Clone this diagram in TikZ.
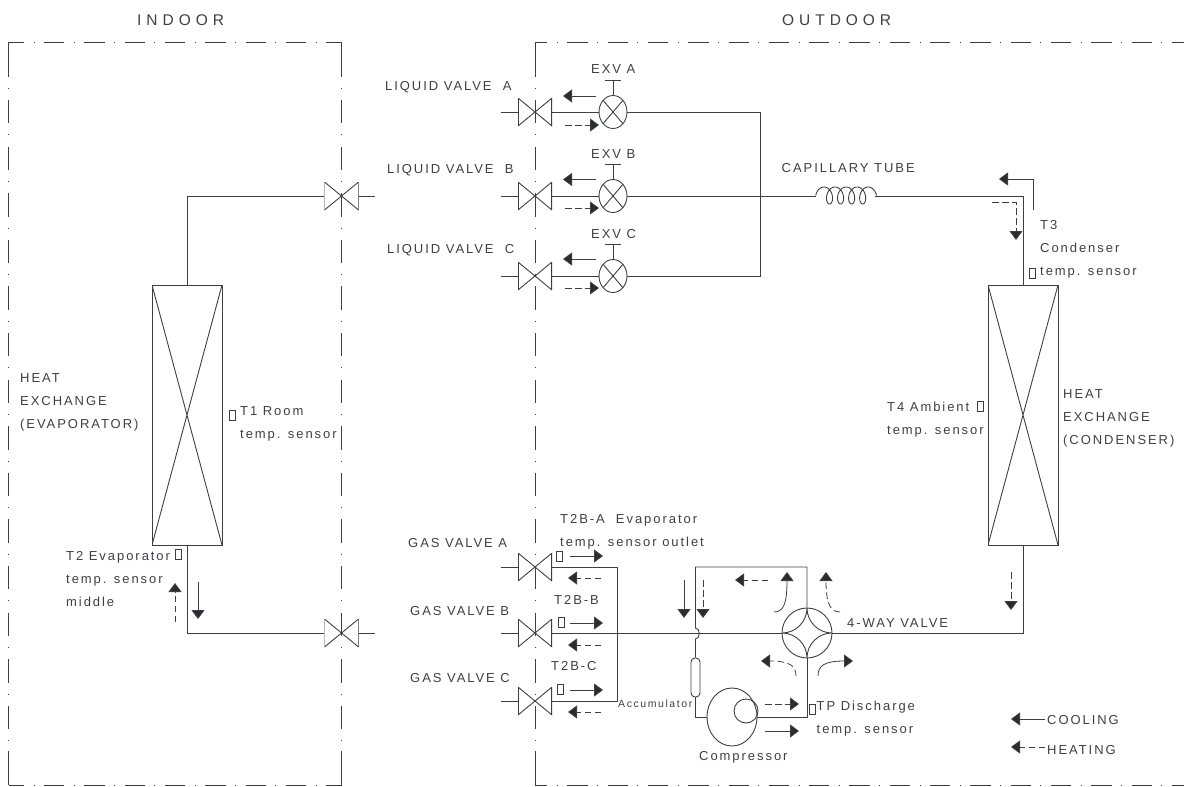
\documentclass[tikz,border=0pt]{standalone}
\usepackage{fontspec}
\setmainfont[LetterSpace=15]{Liberation Sans}
\newfontfamily\widefont[LetterSpace=32]{Liberation Sans}
\usetikzlibrary{arrows.meta,shapes.geometric}
\definecolor{ink}{HTML}{3C4045}
\begin{document}
\begin{tikzpicture}
		[x=1pt,y=-1pt,
		pipe/.style={draw=ink,line width=0.9pt},
		frameh/.style={draw=ink,line width=0.9pt,dash pattern=on 20.3pt off 9.5pt on 1pt off 9.5pt},
		framev/.style={draw=ink,line width=0.9pt,dash pattern=on 23.3pt off 11pt on 1pt off 11.3pt},
		cooling/.style={draw=ink,line width=0.8pt,-{Triangle[length=9pt,width=13pt,fill=ink!70!black]}},
		heating/.style={cooling,dash pattern=on 6.5pt off 3.5pt},
		lbl/.style={anchor=base west,inner sep=0pt,align=left,text=ink,font=\fontsize{13}{23}\selectfont},
		biglbl/.style={lbl,font=\fontsize{15.5}{18}\selectfont\widefont},
		smalllbl/.style={lbl,font=\fontsize{10.5}{12}\selectfont},
		valve/.style={rectangle,inner sep=0pt,minimum width=34pt,minimum height=28pt,
			path picture={
				\draw[pipe] (path picture bounding box.south west) -- (path picture bounding box.north east)
					(path picture bounding box.north west) -- (path picture bounding box.south east);
				\draw[pipe,line width=1.8pt] (path picture bounding box.south west) -- (path picture bounding box.north west)
					(path picture bounding box.south east) -- (path picture bounding box.north east);}},
		exv/.style={ellipse,pipe,inner sep=0pt,minimum width=28pt,minimum height=33pt,
			path picture={
				\draw[pipe] (path picture bounding box.south west) -- (path picture bounding box.north east)
					(path picture bounding box.north west) -- (path picture bounding box.south east);}},
		exchanger/.style={rectangle,pipe,inner sep=0pt,minimum width=70pt,minimum height=260pt,
			path picture={
				\draw[pipe] (path picture bounding box.south west) -- (path picture bounding box.north east)
					(path picture bounding box.north west) -- (path picture bounding box.south east);}},
		fourway/.style={circle,pipe,inner sep=0pt,minimum size=50pt,
			path picture={
				\draw[pipe] (path picture bounding box.north) arc[start angle=0,end angle=-90,radius=25pt]
					(path picture bounding box.north) arc[start angle=180,end angle=270,radius=25pt]
					(path picture bounding box.south) arc[start angle=0,end angle=90,radius=25pt]
					(path picture bounding box.south) arc[start angle=180,end angle=90,radius=25pt];}},
		sensor/.style={rectangle,draw=ink,line width=0.8pt,inner sep=0pt,minimum width=6pt,minimum height=10pt},
		comp/.style={ellipse,pipe,inner sep=0pt,minimum width=50pt,minimum height=58pt},
		compcore/.style={circle,pipe,inner sep=0pt,minimum size=24pt},
		accum/.style={rectangle,pipe,rounded corners=4pt,inner sep=0pt,minimum width=9pt,minimum height=39pt}]
		\useasboundingbox (0,0) rectangle (1184,787);
		\draw[frameh,dash phase=4.8pt] (8.5,42) -- (341.5,42);
		\draw[frameh,dash phase=4.8pt] (8.5,785) -- (341.5,785);
		\draw[frameh,dash phase=8pt] (535,42) -- (1184,42);
		\draw[frameh,dash phase=8pt] (535,785) -- (1184,785);
		\draw[framev] (8.5,53.4) -- (8.5,775);
		\draw[framev] (341.5,53.4) -- (341.5,775);
		\draw[framev] (535,53.4) -- (535,775);
		\draw[pipe] (8.5,42) -- (8.5,77) (341.5,42) -- (341.5,77) (535,42) -- (535,77);
		\draw[pipe] (8.5,751) -- (8.5,785) (341.5,751) -- (341.5,785) (535,751) -- (535,785);
		\path node (indoorlbl) at (137,25) [biglbl] {INDOOR}
			  node (outdoorlbl) at (782,25) [biglbl] {OUTDOOR}
			  node (liqalbl) at (385,90) [lbl] {LIQUID VALVE~~A}
			  node (liqblbl) at (387,173) [lbl] {LIQUID VALVE~~B}
			  node (liqclbl) at (387,253) [lbl] {LIQUID VALVE~~C}
			  node (exvalbl) at (591,73) [lbl] {EXV A}
			  node (exvblbl) at (591,158) [lbl] {EXV B}
			  node (exvclbl) at (591,238) [lbl] {EXV C}
			  node (caplbl) at (781.5,172) [lbl] {CAPILLARY TUBE}
			  node (t3lbl) at (1040,275) [lbl] {T3\\Condenser\\temp. sensor}
			  node (evaplbl) at (20,428) [lbl] {HEAT\\EXCHANGE\\(EVAPORATOR)}
			  node (t1lbl) at (240,438) [lbl] {T1 Room\\temp. sensor}
			  node (t4lbl) at (887,434) [lbl] {T4 Ambient\\temp. sensor}
			  node (condlbl) at (1063,444) [lbl] {HEAT\\EXCHANGE\\(CONDENSER)}
			  node (t2lbl) at (66,606) [lbl] {T2 Evaporator\\temp. sensor\\middle}
			  node (gasalbl) at (408,547) [lbl] {GAS VALVE A}
			  node (gasblbl) at (410,615) [lbl] {GAS VALVE B}
			  node (gasclbl) at (410,682) [lbl] {GAS VALVE C}
			  node (t2balbl) at (560,546) [lbl] {T2B-A~~Evaporator\\temp. sensor outlet}
			  node (t2bblbl) at (554,604) [lbl] {T2B-B}
			  node (t2bclbl) at (551,670) [lbl] {T2B-C}
			  node (acclbl) at (618,707) [smalllbl] {Accumulator}
			  node (complbl) at (699,760) [lbl] {Compressor}
			  node (fwlbl) at (847,627) [lbl] {4-WAY VALVE}
			  node (tplbl) at (816.5,733) [lbl] {TP Discharge\\temp. sensor}
			  node (coollbl) at (1047,724) [lbl] {COOLING}
			  node (heatlbl) at (1047,754) [lbl] {HEATING};
		\path node (iv1) at (341.5,196) [valve] {}
			  node (iv2) at (341.5,633) [valve] {}
			  node (la) at (535,112) [valve] {}
			  node (lb) at (535,196) [valve] {}
			  node (lc) at (535,276) [valve] {}
			  node (ga) at (535,567) [valve] {}
			  node (gb) at (535,633) [valve] {}
			  node (gc) at (535,701) [valve] {}
			  node (ea) at (613,112) [exv] {}
			  node (eb) at (613,196) [exv] {}
			  node (ec) at (613,276) [exv] {}
			  node (hxl) at (187,415) [exchanger] {}
			  node (hxr) at (1023,415) [exchanger] {}
			  node (fw) at (807,633) [fourway] {}
			  node (cp) at (732,717) [comp] {}
			  node (cpc) at (746,711) [compcore] {}
			  node (acc) at (695.5,677.5) [accum] {}
			  node (st1) at (232,415.5) [sensor] {}
			  node (st2) at (178.5,554) [sensor] {}
			  node (st3) at (1032.5,273.5) [sensor] {}
			  node (st4) at (980.5,406.5) [sensor] {}
			  node (sga) at (559.5,556) [sensor] {}
			  node (sgb) at (561.5,622.5) [sensor] {}
			  node (sgc) at (560.5,689) [sensor] {}
			  node (stp) at (812,709) [sensor] {};
		\path coordinate (iv1s) at (375,196)
			  coordinate (iv2s) at (375,633)
			  coordinate (las) at (501,112)
			  coordinate (lbs) at (501,196)
			  coordinate (lcs) at (501,276)
			  coordinate (gas) at (501,567)
			  coordinate (gbs) at (501,633)
			  coordinate (gcs) at (501,701)
			  coordinate (ta) at (605,80) coordinate (taa) at (621,80) coordinate (tac) at (613,80)
			  coordinate (tb) at (605,164) coordinate (tbb) at (621,164) coordinate (tbc) at (613,164)
			  coordinate (tc) at (605,244) coordinate (tcc) at (621,244) coordinate (tcd) at (613,244)
			  coordinate (ja) at (760,112) coordinate (jc) at (760,276)
			  coordinate (capl) at (816,196) coordinate (capr) at (875,196)
			  coordinate (ctop) at (1023,196)
			  coordinate (cbot) at (1023,633)
			  coordinate (il1) at (187,196) coordinate (il2) at (187,633)
			  coordinate (gja) at (617,567) coordinate (gjc) at (617,701)
			  coordinate (ftop) at (807,567) coordinate (acctop) at (695.5,567)
			  coordinate (bump1) at (695.5,628) coordinate (bump2) at (695.5,639)
			  coordinate (accbot) at (695.5,717) coordinate (fbot) at (807,717);
		\draw[pipe] (iv1.west) -- (il1) -- (hxl.north);
		\draw[pipe] (hxl.south) -- (il2) -- (iv2.west);
		\draw[pipe] (iv1.east) -- (iv1s);
		\draw[pipe] (iv2.east) -- (iv2s);
		\draw[pipe] (las) -- (la.west);
		\draw[pipe] (lbs) -- (lb.west);
		\draw[pipe] (lcs) -- (lc.west);
		\draw[pipe] (gas) -- (ga.west);
		\draw[pipe] (gbs) -- (gb.west);
		\draw[pipe] (gcs) -- (gc.west);
		\draw[pipe] (la.east) -- (ea.west);
		\draw[pipe] (lb.east) -- (eb.west);
		\draw[pipe] (lc.east) -- (ec.west);
		\draw[pipe] (ea.north) -- (tac);
		\draw[pipe] (eb.north) -- (tbc);
		\draw[pipe] (ec.north) -- (tcd);
		\draw[pipe] (ta) -- (taa);
		\draw[pipe] (tb) -- (tbb);
		\draw[pipe] (tc) -- (tcc);
		\draw[pipe] (ea.east) -- (ja) -- (jc) -- (ec.east);
		\draw[pipe] (eb.east) -- (capl);
		\draw[pipe] plot[domain=-90:1530,samples=260,variable=\t] ({824+0.0307*\t+5.5*sin(\t)},{195.5-8.5*cos(\t)});
		\draw[pipe] (capr) -- (ctop) -- (hxr.north);
		\draw[pipe] (hxr.south) -- (cbot) -- (fw.east);
		\draw[pipe] (ga.east) -- (gja) -- (gjc) -- (gc.east);
		\draw[pipe] (gb.east) -- (fw.west);
		\draw[pipe] (fw.north) -- (ftop) -- (acctop) -- (bump1)
			.. controls (700.5,628) and (700.5,639) .. (bump2) -- (acc.north);
		\draw[pipe] (acc.south) -- (accbot) -- (cp.west);
		\draw[pipe] (cp.east) -- (fbot) -- (fw.south);
		\path coordinate (ca1) at (596,96) coordinate (ca2) at (563,96)
			  coordinate (cb1) at (596,179.5) coordinate (cb2) at (563,179.5)
			  coordinate (cc1) at (596,259) coordinate (cc2) at (563,259)
			  coordinate (ha1) at (565,125) coordinate (ha2) at (599,125)
			  coordinate (hb1) at (565,208) coordinate (hb2) at (599,208)
			  coordinate (hc1) at (565,288) coordinate (hc2) at (599,288)
			  coordinate (cg1) at (570,556) coordinate (cg2) at (603,556)
			  coordinate (cg3) at (570,623) coordinate (cg4) at (603,623)
			  coordinate (cg5) at (570,690) coordinate (cg6) at (603,690)
			  coordinate (hg1) at (601,578) coordinate (hg2) at (568,578)
			  coordinate (hg3) at (601,645) coordinate (hg4) at (568,645)
			  coordinate (hg5) at (601,712) coordinate (hg6) at (568,712)
			  coordinate (cj1) at (684,580) coordinate (cj2) at (684,618)
			  coordinate (hj1) at (703,580) coordinate (hj2) at (703,618)
			  coordinate (ht1) at (768,580) coordinate (ht2) at (735,580)
			  coordinate (cv1) at (774,612) coordinate (cv2) at (787,572)
			  coordinate (hv1) at (840,612) coordinate (hv2) at (826,572)
			  coordinate (hv3) at (796,676) coordinate (hv4) at (761,661)
			  coordinate (cv3) at (818,676) coordinate (cv4) at (853,661)
			  coordinate (hd1) at (765,704) coordinate (hd2) at (799,704)
			  coordinate (cd1) at (765,731) coordinate (cd2) at (799,731)
			  coordinate (c31) at (1033,210) coordinate (c3k) at (1033,179) coordinate (c32) at (999,179)
			  coordinate (h31) at (992,202) coordinate (h3k) at (1016,202) coordinate (h32) at (1016,240)
			  coordinate (hr1) at (1011,572) coordinate (hr2) at (1011,610)
			  coordinate (cl1) at (198,582) coordinate (cl2) at (198,619)
			  coordinate (hl1) at (175,622) coordinate (hl2) at (175,583)
			  coordinate (key1) at (1045,719) coordinate (key2) at (1011,719)
			  coordinate (key3) at (1045,747) coordinate (key4) at (1011,747);
		\draw[cooling] (ca1) -- (ca2);
		\draw[cooling] (cb1) -- (cb2);
		\draw[cooling] (cc1) -- (cc2);
		\draw[heating] (ha1) -- (ha2);
		\draw[heating] (hb1) -- (hb2);
		\draw[heating] (hc1) -- (hc2);
		\draw[cooling] (cg1) -- (cg2);
		\draw[cooling] (cg3) -- (cg4);
		\draw[cooling] (cg5) -- (cg6);
		\draw[heating] (hg1) -- (hg2);
		\draw[heating] (hg3) -- (hg4);
		\draw[heating] (hg5) -- (hg6);
		\draw[cooling] (cj1) -- (cj2);
		\draw[heating] (hj1) -- (hj2);
		\draw[heating] (ht1) -- (ht2);
		\draw[cooling] (cv1) .. controls (783,612) and (787,605) .. (cv2);
		\draw[heating] (hv1) .. controls (831,612) and (826,605) .. (hv2);
		\draw[heating] (hv3) .. controls (796,666) and (790,661) .. (hv4);
		\draw[cooling] (cv3) .. controls (818,666) and (824,661) .. (cv4);
		\draw[heating] (hd1) -- (hd2);
		\draw[cooling] (cd1) -- (cd2);
		\draw[cooling] (c31) -- (c3k) -- (c32);
		\draw[heating] (h31) -- (h3k) -- (h32);
		\draw[heating] (hr1) -- (hr2);
		\draw[cooling] (cl1) -- (cl2);
		\draw[heating] (hl1) -- (hl2);
		\draw[cooling] (key1) -- (key2);
		\draw[heating] (key3) -- (key4);
\end{tikzpicture}
\end{document}
